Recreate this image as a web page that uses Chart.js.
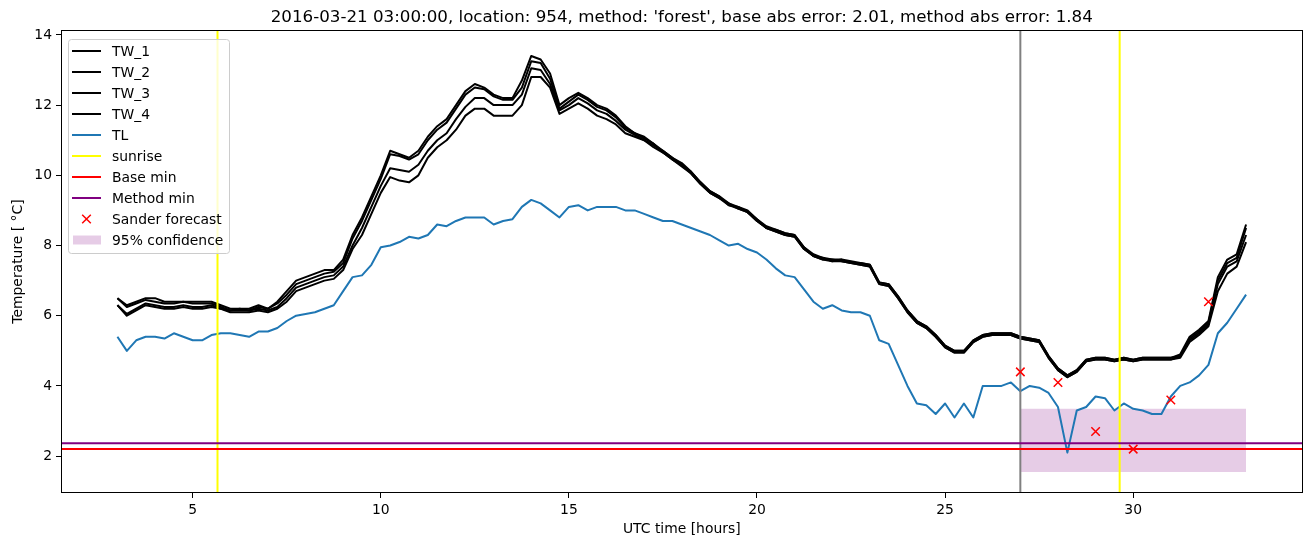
<!DOCTYPE html>
<html>
<head>
<meta charset="utf-8">
<title>Road temperature forecast</title>
<script src="https://cdn.jsdelivr.net/npm/chart.js@4.4.1/dist/chart.umd.min.js"></script>
<style>
  html, body { margin: 0; padding: 0; background: #fff; }
  canvas { display: block; }
</style>
</head>
<body>
<canvas id="tempChart" width="1310" height="547"></canvas>
<script>
// hours (UTC) since 2016-03-21 00:00, one sample every 15 minutes
const hours = [
  3, 3.25, 3.5, 3.75, 4, 4.25, 4.5, 4.75, 5, 5.25, 5.5, 5.75,
  6, 6.25, 6.5, 6.75, 7, 7.25, 7.5, 7.75, 8, 8.25, 8.5, 8.75,
  9, 9.25, 9.5, 9.75, 10, 10.25, 10.5, 10.75, 11, 11.25, 11.5, 11.75,
  12, 12.25, 12.5, 12.75, 13, 13.25, 13.5, 13.75, 14, 14.25, 14.5, 14.75,
  15, 15.25, 15.5, 15.75, 16, 16.25, 16.5, 16.75, 17, 17.25, 17.5, 17.75,
  18, 18.25, 18.5, 18.75, 19, 19.25, 19.5, 19.75, 20, 20.25, 20.5, 20.75,
  21, 21.25, 21.5, 21.75, 22, 22.25, 22.5, 22.75, 23, 23.25, 23.5, 23.75,
  24, 24.25, 24.5, 24.75, 25, 25.25, 25.5, 25.75, 26, 26.25, 26.5, 26.75,
  27, 27.25, 27.5, 27.75, 28, 28.25, 28.5, 28.75, 29, 29.25, 29.5, 29.75,
  30, 30.25, 30.5, 30.75, 31, 31.25, 31.5, 31.75, 32, 32.25, 32.5, 32.75,
  33
];

// road sensor temperatures
const tw1 = [
  6.5, 6.3, 6.4, 6.5, 6.5, 6.4, 6.4, 6.4, 6.4, 6.4, 6.4, 6.3,
  6.2, 6.2, 6.2, 6.3, 6.2, 6.4, 6.7, 7.0, 7.1, 7.2, 7.3, 7.3,
  7.6, 8.3, 8.8, 9.4, 10.0, 10.7, 10.6, 10.5, 10.7, 11.1, 11.4, 11.6,
  12.0, 12.4, 12.6, 12.5, 12.3, 12.2, 12.2, 12.7, 13.4, 13.3, 12.9, 12.0,
  12.2, 12.35, 12.2, 12.0, 11.9, 11.7, 11.4, 11.2, 11.1, 10.9, 10.7, 10.5,
  10.35, 10.1, 9.8, 9.55, 9.4, 9.2, 9.1, 9.0, 8.75, 8.55, 8.45, 8.35,
  8.3, 7.95, 7.75, 7.65, 7.6, 7.6, 7.55, 7.5, 7.45, 6.95, 6.9, 6.55,
  6.15, 5.85, 5.7, 5.45, 5.15, 5.0, 5.0, 5.3, 5.45, 5.5, 5.5, 5.5,
  5.4, 5.35, 5.3, 4.85, 4.5, 4.3, 4.45, 4.75, 4.8, 4.8, 4.75, 4.8,
  4.75, 4.8, 4.8, 4.8, 4.8, 4.9, 5.4, 5.6, 5.85, 7.1, 7.6, 7.75,
  8.6
];
const tw2 = [
  6.5, 6.25, 6.35, 6.45, 6.4, 6.35, 6.35, 6.4, 6.35, 6.35, 6.35, 6.25,
  6.15, 6.2, 6.15, 6.25, 6.2, 6.35, 6.6, 6.9, 7.0, 7.1, 7.2, 7.25,
  7.5, 8.2, 8.7, 9.3, 9.9, 10.6, 10.55, 10.45, 10.6, 11.0, 11.3, 11.5,
  11.9, 12.3, 12.5, 12.45, 12.25, 12.15, 12.15, 12.5, 13.25, 13.2, 12.75, 11.9,
  12.1, 12.3, 12.15, 11.95, 11.85, 11.65, 11.35, 11.2, 11.05, 10.9, 10.65, 10.45,
  10.3, 10.05, 9.75, 9.5, 9.35, 9.2, 9.05, 8.95, 8.7, 8.5, 8.4, 8.3,
  8.25, 7.9, 7.7, 7.6, 7.6, 7.55, 7.5, 7.45, 7.4, 6.9, 6.85, 6.5,
  6.1, 5.8, 5.65, 5.4, 5.1, 4.95, 4.95, 5.25, 5.4, 5.45, 5.45, 5.45,
  5.35, 5.3, 5.25, 4.8, 4.45, 4.25, 4.4, 4.7, 4.75, 4.75, 4.7, 4.75,
  4.7, 4.75, 4.75, 4.75, 4.75, 4.85, 5.35, 5.55, 5.8, 7.0, 7.5, 7.65,
  8.5
];
const tw3 = [
  6.3, 6.05, 6.2, 6.35, 6.3, 6.25, 6.25, 6.3, 6.25, 6.25, 6.3, 6.2,
  6.15, 6.15, 6.15, 6.2, 6.15, 6.25, 6.5, 6.8, 6.9, 7.0, 7.1, 7.15,
  7.4, 8.0, 8.5, 9.1, 9.7, 10.2, 10.15, 10.1, 10.3, 10.7, 11.0, 11.2,
  11.6, 11.95, 12.2, 12.2, 12.0, 12.0, 12.0, 12.3, 13.05, 13.0, 12.6, 11.85,
  12.0, 12.2, 12.05, 11.85, 11.75, 11.55, 11.3, 11.15, 11.0, 10.85, 10.7, 10.5,
  10.3, 10.1, 9.8, 9.55, 9.4, 9.15, 9.1, 8.95, 8.75, 8.5, 8.45, 8.35,
  8.3, 7.95, 7.7, 7.65, 7.55, 7.6, 7.5, 7.5, 7.45, 6.95, 6.9, 6.55,
  6.15, 5.85, 5.7, 5.45, 5.15, 5.0, 5.0, 5.3, 5.45, 5.5, 5.5, 5.5,
  5.4, 5.35, 5.3, 4.85, 4.5, 4.3, 4.45, 4.75, 4.8, 4.8, 4.75, 4.8,
  4.75, 4.8, 4.8, 4.8, 4.8, 4.85, 5.3, 5.5, 5.75, 6.9, 7.4, 7.55,
  8.3
];
const tw4 = [
  6.3, 6.0, 6.15, 6.3, 6.25, 6.2, 6.2, 6.25, 6.2, 6.2, 6.25, 6.2,
  6.1, 6.1, 6.1, 6.15, 6.1, 6.2, 6.4, 6.7, 6.8, 6.9, 7.0, 7.05,
  7.3, 7.9, 8.3, 8.9, 9.5, 9.95, 9.85, 9.8, 10.0, 10.5, 10.8, 11.0,
  11.3, 11.7, 11.9, 11.9, 11.7, 11.7, 11.7, 12.0, 12.8, 12.8, 12.5, 11.75,
  11.9, 12.05, 11.9, 11.7, 11.6, 11.45, 11.2, 11.1, 11.0, 10.8, 10.65, 10.45,
  10.25, 10.05, 9.75, 9.5, 9.35, 9.15, 9.05, 8.95, 8.7, 8.5, 8.4, 8.3,
  8.25, 7.9, 7.7, 7.6, 7.55, 7.55, 7.5, 7.45, 7.4, 6.9, 6.85, 6.5,
  6.1, 5.8, 5.65, 5.4, 5.1, 4.95, 4.95, 5.25, 5.4, 5.45, 5.45, 5.45,
  5.35, 5.3, 5.25, 4.8, 4.45, 4.25, 4.4, 4.7, 4.75, 4.75, 4.7, 4.75,
  4.7, 4.75, 4.75, 4.75, 4.75, 4.8, 5.25, 5.45, 5.7, 6.7, 7.2, 7.4,
  8.1
];

// air temperature
const tl = [
  5.4, 5.0, 5.3, 5.4, 5.4, 5.35, 5.5, 5.4, 5.3, 5.3, 5.45, 5.5,
  5.5, 5.45, 5.4, 5.55, 5.55, 5.65, 5.85, 6.0, 6.05, 6.1, 6.2, 6.3,
  6.7, 7.1, 7.15, 7.45, 7.95, 8.0, 8.1, 8.25, 8.2, 8.3, 8.6, 8.55,
  8.7, 8.8, 8.8, 8.8, 8.6, 8.7, 8.75, 9.1, 9.3, 9.2, 9.0, 8.8,
  9.1, 9.15, 9.0, 9.1, 9.1, 9.1, 9.0, 9.0, 8.9, 8.8, 8.7, 8.7,
  8.6, 8.5, 8.4, 8.3, 8.15, 8.0, 8.05, 7.9, 7.8, 7.6, 7.35, 7.15,
  7.1, 6.75, 6.4, 6.2, 6.3, 6.15, 6.1, 6.1, 6.0, 5.3, 5.2, 4.6,
  4.0, 3.5, 3.45, 3.2, 3.5, 3.1, 3.5, 3.1, 4.0, 4.0, 4.0, 4.1,
  3.85, 4.0, 3.95, 3.8, 3.4, 2.1, 3.3, 3.4, 3.7, 3.65, 3.3, 3.5,
  3.35, 3.3, 3.2, 3.2, 3.7, 4.0, 4.1, 4.3, 4.6, 5.5, 5.8, 6.2,
  6.6
];

// Sander forecast
const forecastHours = [27, 28, 29, 30, 31, 32];
const forecastTemps = [4.4, 4.1, 2.7, 2.2, 3.6, 6.4];

const sunriseHours = [5.66, 29.64];
const forecastStart = 27.0;
const baseMin = 2.2;
const methodMin = 2.37;

// 95% confidence band
const confHours = [27, 33];
const confLow = [1.55, 1.55];
const confHigh = [3.35, 3.35];

const xRange = [1.5, 34.5];
const yRange = [0.95, 14.14];
const xTicks = [5, 10, 15, 20, 25, 30];
const yTicks = [2, 4, 6, 8, 10, 12, 14];

const titleText = "2016-03-21 03:00:00, location: 954, method: 'forest', base abs error: 2.01, method abs error: 1.84";
const legendLabels = ['TW_1', 'TW_2', 'TW_3', 'TW_4', 'TL', 'sunrise', 'Base min', 'Method min', 'Sander forecast', '95% confidence'];

const FONT = 'DejaVu Sans';
const toPoints = (xs, ys) => xs.map((x, i) => ({ x: x, y: ys[i] }));

function lineSet(label, ys, color, order) {
  return {
    label: label,
    data: toPoints(hours, ys),
    borderColor: color,
    borderWidth: 2,
    pointRadius: 0,
    tension: 0,
    borderJoinStyle: 'round',
    order: order
  };
}
function hLine(label, y, color, order) {
  return {
    label: label,
    data: [{ x: xRange[0], y: y }, { x: xRange[1], y: y }],
    borderColor: color, borderWidth: 2, pointRadius: 0, order: order
  };
}
function vLine(label, x, color, order) {
  return {
    label: label,
    data: [{ x: x, y: yRange[0] }, { x: x, y: yRange[1] }],
    borderColor: color, borderWidth: 2, pointRadius: 0, order: order
  };
}

const datasets = [
  {
    label: 'conf_low', data: toPoints(confHours, confLow),
    borderColor: 'rgba(0,0,0,0)', borderWidth: 0, pointRadius: 0, fill: false, order: 31
  },
  {
    label: '95% confidence', data: toPoints(confHours, confHigh),
    borderColor: 'rgba(0,0,0,0)', borderWidth: 0, pointRadius: 0,
    fill: '-1', backgroundColor: 'rgba(128,0,128,0.2)', order: 30
  },
  lineSet('TW_1', tw1, '#000000', 12),
  lineSet('TW_2', tw2, '#000000', 11),
  lineSet('TW_3', tw3, '#000000', 10),
  lineSet('TW_4', tw4, '#000000', 9),
  lineSet('TL', tl, '#1f77b4', 8),
  vLine('forecast start', forecastStart, '#808080', 7),
  vLine('sunrise', sunriseHours[0], '#ffff00', 6),
  vLine('sunrise 2', sunriseHours[1], '#ffff00', 6),
  hLine('Base min', baseMin, '#ff0000', 4),
  hLine('Method min', methodMin, '#800080', 3),
  {
    label: 'Sander forecast', data: toPoints(forecastHours, forecastTemps),
    showLine: false, pointStyle: 'crossRot', pointRadius: 6, pointBorderWidth: 1.5,
    borderColor: '#ff0000', backgroundColor: '#ff0000', order: 1
  }
];

// matplotlib-like frame, title and legend
const decorPlugin = {
  id: 'decor',
  afterDraw(chart) {
    const ctx = chart.ctx;
    const a = chart.chartArea;
    ctx.save();

    ctx.strokeStyle = '#000';
    ctx.lineWidth = 1;
    ctx.strokeRect(Math.round(a.left) + 0.5, Math.round(a.top) + 0.5,
      Math.round(a.right - a.left) - 1, Math.round(a.bottom - a.top) - 1);

    ctx.fillStyle = '#000';
    ctx.font = '16.7px "' + FONT + '"';
    ctx.textAlign = 'center';
    ctx.textBaseline = 'middle';
    ctx.fillText(titleText, (a.left + a.right) / 2, 18);

    // legend
    const lx = a.left + 7, ly = a.top + 9, lw = 161, lh = 214, row = 21;
    ctx.beginPath();
    ctx.roundRect(lx + 0.5, ly + 0.5, lw, lh, 3);
    ctx.fillStyle = 'rgba(255,255,255,0.8)';
    ctx.fill();
    ctx.strokeStyle = '#cccccc';
    ctx.lineWidth = 1;
    ctx.stroke();

    ctx.font = '13.9px "' + FONT + '"';
    ctx.textAlign = 'left';
    ctx.textBaseline = 'middle';
    legendLabels.forEach((label, i) => {
      const ds = chart.data.datasets.find(d => d.label === label);
      const cy = ly + 12 + i * row;
      const x0 = lx + 4, x1 = lx + 33;
      if (ds.fill) {
        ctx.fillStyle = ds.backgroundColor;
        ctx.fillRect(x0 + 1, cy - 4.5, x1 - x0 - 1, 9);
      } else if (ds.showLine === false) {
        const cx = (x0 + x1) / 2, r = 4.3;
        ctx.strokeStyle = ds.borderColor;
        ctx.lineWidth = 1.5;
        ctx.beginPath();
        ctx.moveTo(cx - r, cy - r); ctx.lineTo(cx + r, cy + r);
        ctx.moveTo(cx - r, cy + r); ctx.lineTo(cx + r, cy - r);
        ctx.stroke();
      } else {
        ctx.strokeStyle = ds.borderColor;
        ctx.lineWidth = 2;
        ctx.beginPath();
        ctx.moveTo(x0, cy); ctx.lineTo(x1, cy);
        ctx.stroke();
      }
      ctx.fillStyle = '#000';
      ctx.fillText(label, lx + 44, cy + 1);
    });
    ctx.restore();
  }
};

Chart.defaults.font.family = FONT;
Chart.defaults.font.size = 13.9;
Chart.defaults.color = '#000';

new Chart(document.getElementById('tempChart'), {
  type: 'line',
  data: { datasets: datasets },
  options: {
    responsive: false,
    animation: false,
    devicePixelRatio: 1,
    layout: { padding: { top: 30, right: 7, left: 0, bottom: 0 } },
    plugins: {
      legend: { display: false },
      title: { display: false },
      tooltip: { enabled: false }
    },
    scales: {
      x: {
        type: 'linear',
        min: xRange[0],
        max: xRange[1],
        afterBuildTicks: axis => { axis.ticks = xTicks.map(v => ({ value: v })); },
        afterFit: scale => { scale.height = 54; },
        grid: { drawOnChartArea: false, drawTicks: true, tickLength: 5, tickColor: '#000' },
        border: { display: false },
        ticks: { padding: 4, maxRotation: 0, callback: v => String(v) },
        title: { display: true, text: 'UTC time [hours]', padding: { top: 0, bottom: 9 } }
      },
      y: {
        type: 'linear',
        min: yRange[0],
        max: yRange[1],
        afterBuildTicks: axis => { axis.ticks = yTicks.map(v => ({ value: v })); },
        afterFit: scale => { scale.width = 61; },
        grid: { drawOnChartArea: false, drawTicks: true, tickLength: 5, tickColor: '#000' },
        border: { display: false },
        ticks: { padding: 4, callback: v => String(v) },
        title: { display: true, text: 'Temperature [ °C]', padding: { top: 10, bottom: 0 } }
      }
    }
  },
  plugins: [decorPlugin]
});
</script>
</body>
</html>
